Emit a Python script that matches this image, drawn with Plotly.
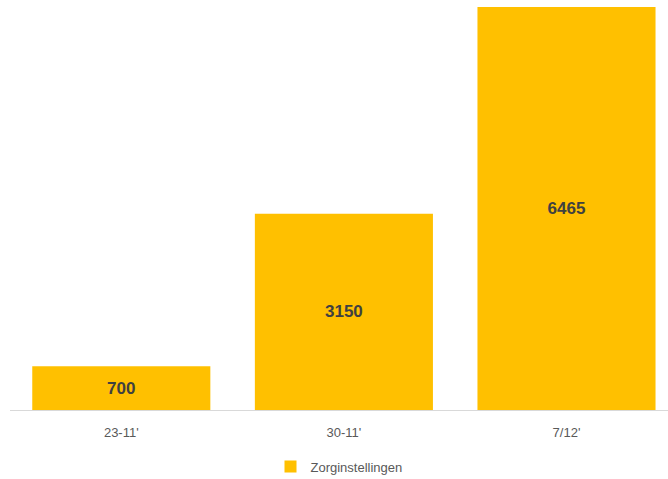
import plotly.graph_objects as go

categories = ["23-11'", "30-11'", "7/12'"]
values = [700, 3150, 6465]
series_name = "Zorginstellingen"

fig = go.Figure()
fig.add_trace(go.Bar(
    x=categories, y=values, name=series_name,
    marker=dict(color="#FFC000", line=dict(width=0)),
    width=0.8,
    text=[str(v) for v in values], textposition="inside",
    insidetextanchor="middle",
    textfont=dict(family="Liberation Sans", size=17, color="#404040"),
    texttemplate="<b>%{text}</b>",
    showlegend=True,
))

W, H = 668, 479
plot_left, plot_right, plot_top, plot_bottom = 10, 668, 0, 410
fig.update_layout(
    width=W, height=H,
    margin=dict(l=plot_left, r=W - plot_right, t=plot_top, b=H - plot_bottom, autoexpand=False),
    paper_bgcolor="white", plot_bgcolor="white",
    bargap=0.2,
    font=dict(family="Liberation Sans", size=12, color="#595959"),
    xaxis=dict(
        range=[-0.5, 2.456], showgrid=False, showline=True, linecolor="#D9D9D9", linewidth=1,
        ticks="", tickfont=dict(size=13, color="#595959"), ticklabelstandoff=10, fixedrange=True,
    ),
    yaxis=dict(range=[0, 6577], visible=False, showgrid=False, zeroline=False, fixedrange=True),
    legend=dict(orientation="h", x=0.5, xanchor="center", y=-0.138, yanchor="middle",
                font=dict(size=13, color="#595959")),
)
fig.write_html("out.html", config={"displayModeBar": False},
               post_script="document.body.style.margin='0';document.body.style.overflow='hidden';")
